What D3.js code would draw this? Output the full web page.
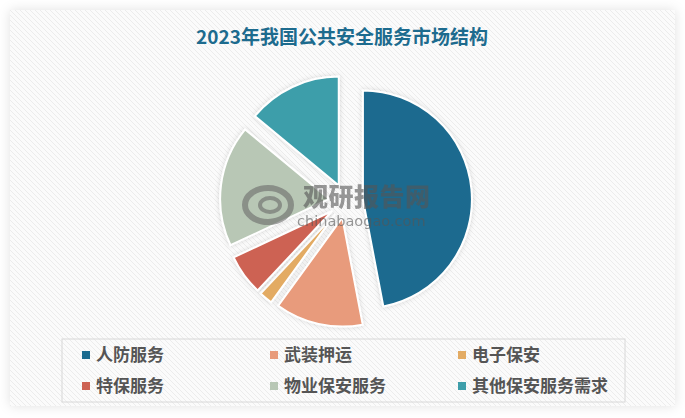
<!DOCTYPE html>
<html><head><meta charset="utf-8">
<script src="https://cdn.jsdelivr.net/npm/d3@7"></script>
<style>html,body{margin:0;padding:0;background:#fff;}svg{display:block;}</style>
</head><body>
<svg id="c" width="685" height="418"></svg>
<script>
const title = "2023年我国公共安全服务市场结构";
const categories = ["人防服务","武装押运","电子保安","特保服务","物业保安服务","其他保安服务需求"];
const shares = [47, 13, 2, 6, 18, 14];
const colors = ["#1b6b8f","#e89b7b","#e3ab63","#cd6253","#b8c7b5","#3e9eaa"];

const svg = d3.select("#c");
const defs = svg.append("defs");
const pat = defs.append("pattern").attr("id","hatch").attr("patternUnits","userSpaceOnUse")
  .attr("width",5).attr("height",5);
pat.append("rect").attr("width",5).attr("height",5).attr("fill","#fbfbfb");
pat.append("path").attr("d","M0,0 L5,5 M-1,4 L1,6 M4,-1 L6,1").attr("stroke","#ececec").attr("stroke-width",1);
const sh = defs.append("filter").attr("id","shadow").attr("x","-10%").attr("y","-10%").attr("width","120%").attr("height","120%");
sh.append("feGaussianBlur").attr("in","SourceAlpha").attr("stdDeviation",6).attr("result","b");
sh.append("feFlood").attr("flood-color","#000").attr("flood-opacity",0.12);
sh.append("feComposite").attr("in2","b").attr("operator","in").attr("result","s");
const m = sh.append("feMerge"); m.append("feMergeNode").attr("in","s"); m.append("feMergeNode").attr("in","SourceGraphic");
const ps = defs.append("filter").attr("id","pshadow").attr("x","-20%").attr("y","-20%").attr("width","140%").attr("height","140%");
ps.append("feGaussianBlur").attr("in","SourceAlpha").attr("stdDeviation",2.5).attr("result","b");
ps.append("feFlood").attr("flood-color","#000").attr("flood-opacity",0.15);
ps.append("feComposite").attr("in2","b").attr("operator","in").attr("result","s");
const m2 = ps.append("feMerge"); m2.append("feMergeNode").attr("in","s"); m2.append("feMergeNode").attr("in","SourceGraphic");

// card
svg.append("rect").attr("x",10).attr("y",10).attr("width",665).attr("height",396)
  .attr("fill","url(#hatch)").attr("filter","url(#shadow)");

svg.append("text").attr("x",342).attr("y",44).attr("text-anchor","middle")
  .attr("font-family","'Noto Sans CJK SC', sans-serif").attr("font-weight","bold")
  .attr("font-size",19).attr("fill","#1d6b8e").text(title);

// pie
const cx = 346, cy = 201, r = 109, off = 17;
const pie = d3.pie().sort(null).value(d => d)(shares);
const arc = d3.arc().innerRadius(0).outerRadius(r);
const g = svg.append("g").attr("transform",`translate(${cx},${cy})`);
g.selectAll("path").data(pie).join("path")
  .attr("d", arc)
  .attr("transform", d => { const a = (d.startAngle + d.endAngle)/2; return `translate(${Math.sin(a)*off},${-Math.cos(a)*off})`; })
  .attr("fill", (d,i) => colors[i])
  .attr("stroke","#fff").attr("stroke-width",2)
  .attr("filter","url(#pshadow)");

// watermark
const wm = svg.append("g").attr("opacity",0.6);
wm.append("text").attr("x",303).attr("y",206).attr("font-family","'Noto Sans CJK SC', sans-serif")
  .attr("font-weight","900").attr("font-size",25).attr("letter-spacing",0.5).attr("fill","#555").text("观研报告网");
wm.append("text").attr("x",297).attr("y",226).attr("font-family","'DejaVu Sans', sans-serif")
  .attr("font-size",14.5).attr("fill","#555").text("chinabaogao.com");
wm.append("ellipse").attr("cx",268).attr("cy",205).attr("rx",23).attr("ry",17)
  .attr("fill","none").attr("stroke","#6a6a6a").attr("stroke-width",6);
wm.append("ellipse").attr("cx",270).attr("cy",205).attr("rx",10).attr("ry",7)
  .attr("fill","none").attr("stroke","#6a6a6a").attr("stroke-width",4);

// legend
svg.append("rect").attr("x",62).attr("y",339).attr("width",563).attr("height",63)
  .attr("fill","none").attr("stroke","#d8d8d8").attr("stroke-width",1);
const colX = [86, 274, 462], rowY = [355, 386];
const lg = svg.append("g").selectAll("g").data(categories).join("g")
  .attr("transform",(d,i)=>`translate(${colX[i%3]},${rowY[Math.floor(i/3)]})`);
lg.append("rect").attr("x",-4).attr("y",-4).attr("width",8).attr("height",8).attr("fill",(d,i)=>colors[i]);
lg.append("text").attr("x",10).attr("y",6).attr("font-family","'Noto Sans CJK SC', sans-serif")
  .attr("font-weight","bold").attr("font-size",17).attr("fill","#555").text(d=>d);
</script>
</body></html>
